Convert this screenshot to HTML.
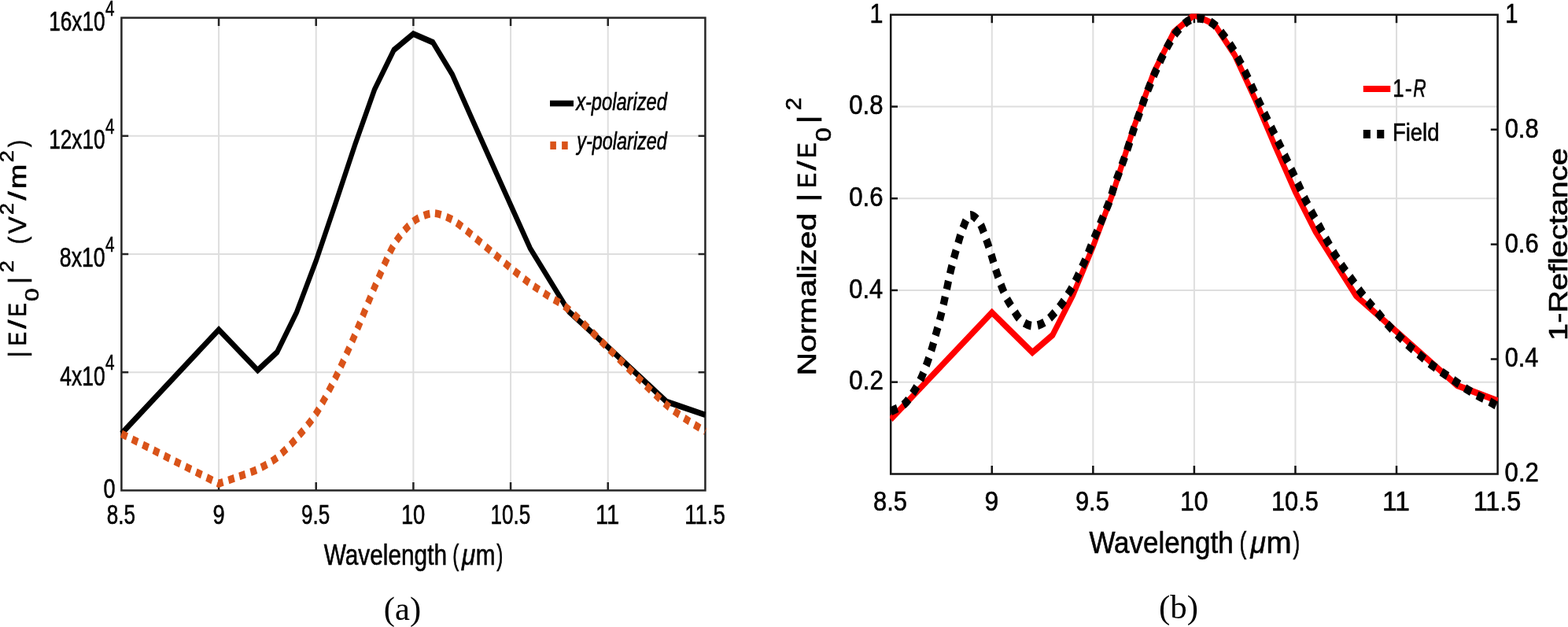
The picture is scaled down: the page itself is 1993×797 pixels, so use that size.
<!DOCTYPE html>
<html lang="en"><head><meta charset="utf-8"><title>Figure</title>
<style>
html,body{margin:0;padding:0;background:#fff;}
body{width:1993px;height:797px;overflow:hidden;}
svg{display:block;}
</style></head>
<body>
<svg width="1993" height="797" viewBox="0 0 1993 797">
<rect x="0" y="0" width="1993" height="797" fill="#ffffff"/>
<defs><clipPath id="c1"><rect x="151.9" y="21.3" width="747.0" height="603.4"/></clipPath><clipPath id="c2"><rect x="1131.2" y="17.5" width="773.4" height="586.2"/></clipPath></defs>
<line x1="278.07" y1="22.60" x2="278.07" y2="623.40" stroke="#dedede" stroke-width="2.0"/>
<line x1="401.73" y1="22.60" x2="401.73" y2="623.40" stroke="#dedede" stroke-width="2.0"/>
<line x1="525.40" y1="22.60" x2="525.40" y2="623.40" stroke="#dedede" stroke-width="2.0"/>
<line x1="649.07" y1="22.60" x2="649.07" y2="623.40" stroke="#dedede" stroke-width="2.0"/>
<line x1="772.73" y1="22.60" x2="772.73" y2="623.40" stroke="#dedede" stroke-width="2.0"/>
<line x1="154.40" y1="172.80" x2="896.40" y2="172.80" stroke="#dedede" stroke-width="2.0"/>
<line x1="154.40" y1="323.00" x2="896.40" y2="323.00" stroke="#dedede" stroke-width="2.0"/>
<line x1="154.40" y1="473.20" x2="896.40" y2="473.20" stroke="#dedede" stroke-width="2.0"/>
<rect x="154.4" y="22.6" width="742.0" height="600.8" fill="none" stroke="#262626" stroke-width="2.5"/>
<line x1="278.07" y1="623.40" x2="278.07" y2="613.00" stroke="#262626" stroke-width="2.5"/>
<line x1="278.07" y1="22.60" x2="278.07" y2="33.00" stroke="#262626" stroke-width="2.5"/>
<line x1="401.73" y1="623.40" x2="401.73" y2="613.00" stroke="#262626" stroke-width="2.5"/>
<line x1="401.73" y1="22.60" x2="401.73" y2="33.00" stroke="#262626" stroke-width="2.5"/>
<line x1="525.40" y1="623.40" x2="525.40" y2="613.00" stroke="#262626" stroke-width="2.5"/>
<line x1="525.40" y1="22.60" x2="525.40" y2="33.00" stroke="#262626" stroke-width="2.5"/>
<line x1="649.07" y1="623.40" x2="649.07" y2="613.00" stroke="#262626" stroke-width="2.5"/>
<line x1="649.07" y1="22.60" x2="649.07" y2="33.00" stroke="#262626" stroke-width="2.5"/>
<line x1="772.73" y1="623.40" x2="772.73" y2="613.00" stroke="#262626" stroke-width="2.5"/>
<line x1="772.73" y1="22.60" x2="772.73" y2="33.00" stroke="#262626" stroke-width="2.5"/>
<line x1="154.40" y1="172.80" x2="163.20" y2="172.80" stroke="#262626" stroke-width="2.5"/>
<line x1="896.40" y1="172.80" x2="887.60" y2="172.80" stroke="#262626" stroke-width="2.5"/>
<line x1="154.40" y1="323.00" x2="163.20" y2="323.00" stroke="#262626" stroke-width="2.5"/>
<line x1="896.40" y1="323.00" x2="887.60" y2="323.00" stroke="#262626" stroke-width="2.5"/>
<line x1="154.40" y1="473.20" x2="163.20" y2="473.20" stroke="#262626" stroke-width="2.5"/>
<line x1="896.40" y1="473.20" x2="887.60" y2="473.20" stroke="#262626" stroke-width="2.5"/>
<g clip-path="url(#c1)">
<g transform="scale(0.8 1)">
<path d="M193.0 551.2 L347.6 419.0 L409.4 470.6 L440.3 447.5 L471.3 397.0 L502.2 331.5 L533.1 258.5 L564.0 184.0 L594.9 114.1 L625.8 63.6 L656.7 43.0 L687.7 53.8 L718.6 94.6 L749.5 150.4 L780.4 205.5 L811.3 260.5 L842.2 315.5 L904.1 396.3 L965.9 441.2 L1058.7 510.4 L1120.5 527.4" fill="none" stroke="#000000" stroke-width="7.7" stroke-linejoin="miter" stroke-linecap="butt"/>
<path d="M193.0 551.3 L347.6 614.8 C351.7 613.6 370.3 608.4 378.5 606.0 C386.7 603.6 401.2 599.8 409.4 596.5 C417.7 593.2 432.1 586.8 440.3 581.5 C448.6 576.2 463.0 564.4 471.3 557.0 C479.5 549.6 493.9 536.0 502.2 525.7 C510.4 515.4 524.8 493.4 533.1 480.0 C541.3 466.6 555.8 440.8 564.0 425.5 C572.2 410.2 586.7 380.8 594.9 365.5 C603.2 350.2 617.6 322.2 625.8 311.0 C634.1 299.8 648.5 286.8 656.7 281.5 C665.0 276.2 679.4 271.3 687.7 271.0 C695.9 270.7 710.3 275.6 718.6 279.3 C726.8 283.0 741.3 293.1 749.5 298.5 C757.7 303.9 772.2 313.9 780.4 319.5 C788.7 325.1 803.1 335.2 811.3 340.6 C819.6 346.0 834.0 355.4 842.2 360.3 C850.5 365.2 864.9 372.8 873.2 377.3 C881.4 381.8 891.7 385.1 904.1 393.8 C916.5 402.5 945.3 426.1 965.9 442.2 C986.5 458.3 1038.1 500.3 1058.7 514.5 C1079.3 528.7 1112.3 544.0 1120.5 548.5" fill="none" stroke="#D95319" stroke-width="9.9" stroke-linejoin="round" stroke-dasharray="9.7 8.6" stroke-dashoffset="0"/>
</g>
</g>
<text font-family="'Liberation Sans', sans-serif" fill="#000" stroke="#000" stroke-width="0.6" style="white-space:pre"><tspan x="62.16" y="39.00" font-size="34.60" textLength="71.55" lengthAdjust="spacingAndGlyphs">16x10</tspan><tspan x="134.06" y="19.70" font-size="27.40" textLength="11.51" lengthAdjust="spacingAndGlyphs">4</tspan></text>
<text font-family="'Liberation Sans', sans-serif" fill="#000" stroke="#000" stroke-width="0.6" style="white-space:pre"><tspan x="62.16" y="189.20" font-size="34.60" textLength="71.55" lengthAdjust="spacingAndGlyphs">12x10</tspan><tspan x="134.06" y="169.90" font-size="27.40" textLength="11.51" lengthAdjust="spacingAndGlyphs">4</tspan></text>
<text font-family="'Liberation Sans', sans-serif" fill="#000" stroke="#000" stroke-width="0.6" style="white-space:pre"><tspan x="75.80" y="339.40" font-size="34.60" textLength="57.90" lengthAdjust="spacingAndGlyphs">8x10</tspan><tspan x="134.06" y="320.10" font-size="27.40" textLength="11.51" lengthAdjust="spacingAndGlyphs">4</tspan></text>
<text font-family="'Liberation Sans', sans-serif" fill="#000" stroke="#000" stroke-width="0.6" style="white-space:pre"><tspan x="76.33" y="489.60" font-size="34.60" textLength="57.35" lengthAdjust="spacingAndGlyphs">4x10</tspan><tspan x="134.06" y="470.30" font-size="27.40" textLength="11.51" lengthAdjust="spacingAndGlyphs">4</tspan></text>
<text font-family="'Liberation Sans', sans-serif" fill="#000" stroke="#000" stroke-width="0.6" style="white-space:pre"><tspan x="131.55" y="633.00" font-size="34.60" textLength="15.06" lengthAdjust="spacingAndGlyphs">0</tspan></text>
<text font-family="'Liberation Sans', sans-serif" fill="#000" stroke="#000" stroke-width="0.6" style="white-space:pre"><tspan x="135.72" y="665.70" font-size="34.60" textLength="36.31" lengthAdjust="spacingAndGlyphs">8.5</tspan></text>
<text font-family="'Liberation Sans', sans-serif" fill="#000" stroke="#000" stroke-width="0.6" style="white-space:pre"><tspan x="270.44" y="665.70" font-size="34.60" textLength="15.18" lengthAdjust="spacingAndGlyphs">9</tspan></text>
<text font-family="'Liberation Sans', sans-serif" fill="#000" stroke="#000" stroke-width="0.6" style="white-space:pre"><tspan x="383.09" y="665.70" font-size="34.60" textLength="36.23" lengthAdjust="spacingAndGlyphs">9.5</tspan></text>
<text font-family="'Liberation Sans', sans-serif" fill="#000" stroke="#000" stroke-width="0.6" style="white-space:pre"><tspan x="509.88" y="665.70" font-size="34.60" textLength="30.47" lengthAdjust="spacingAndGlyphs">10</tspan></text>
<text font-family="'Liberation Sans', sans-serif" fill="#000" stroke="#000" stroke-width="0.6" style="white-space:pre"><tspan x="623.47" y="665.70" font-size="34.60" textLength="50.68" lengthAdjust="spacingAndGlyphs">10.5</tspan></text>
<text font-family="'Liberation Sans', sans-serif" fill="#000" stroke="#000" stroke-width="0.6" style="white-space:pre"><tspan x="756.96" y="665.70" font-size="34.60" textLength="30.29" lengthAdjust="spacingAndGlyphs">11</tspan></text>
<text font-family="'Liberation Sans', sans-serif" fill="#000" stroke="#000" stroke-width="0.6" style="white-space:pre"><tspan x="870.17" y="665.70" font-size="34.60" textLength="51.65" lengthAdjust="spacingAndGlyphs">11.5</tspan></text>
<text font-family="'Liberation Sans', sans-serif" fill="#000" stroke="#000" stroke-width="0.6" style="white-space:pre"><tspan x="411.70" y="718.00" font-size="36.50" textLength="164.61" lengthAdjust="spacingAndGlyphs">Wavelength </tspan><tspan x="575.28" y="718.00" font-size="36.50" textLength="8.12" lengthAdjust="spacingAndGlyphs">(</tspan><tspan x="586.89" y="718.00" font-size="36.50" font-style="italic" textLength="17.24" lengthAdjust="spacingAndGlyphs">μ</tspan><tspan x="604.64" y="718.00" font-size="36.50" textLength="24.77" lengthAdjust="spacingAndGlyphs">m</tspan><tspan x="631.22" y="718.00" font-size="36.50" textLength="8.12" lengthAdjust="spacingAndGlyphs">)</tspan></text>
<text transform="translate(33.2 452.0) rotate(-90)" font-family="'Liberation Sans', sans-serif" fill="#000" stroke="#000" stroke-width="0.6" style="white-space:pre"><tspan x="-2.66" y="0.00" font-size="30.80" textLength="8.62" lengthAdjust="spacingAndGlyphs">|</tspan><tspan x="12.38" y="0.00" font-size="30.80" textLength="17.57" lengthAdjust="spacingAndGlyphs">E</tspan><tspan x="34.29" y="0.00" font-size="30.80" textLength="11.23" lengthAdjust="spacingAndGlyphs">/</tspan><tspan x="49.51" y="0.00" font-size="30.80" textLength="17.33" lengthAdjust="spacingAndGlyphs">E</tspan><tspan x="68.99" y="16.00" font-size="23.40" textLength="16.58" lengthAdjust="spacingAndGlyphs">0</tspan><tspan x="91.08" y="0.00" font-size="30.80" textLength="9.14" lengthAdjust="spacingAndGlyphs">|</tspan><tspan x="105.89" y="-16.00" font-size="23.40" textLength="22.73" lengthAdjust="spacingAndGlyphs">2 </tspan><tspan x="141.80" y="0.00" font-size="30.80" textLength="9.45" lengthAdjust="spacingAndGlyphs">(</tspan><tspan x="154.95" y="0.00" font-size="30.80" textLength="21.77" lengthAdjust="spacingAndGlyphs">V</tspan><tspan x="179.11" y="-16.00" font-size="23.40" textLength="14.81" lengthAdjust="spacingAndGlyphs">2</tspan><tspan x="197.48" y="0.00" font-size="30.80" textLength="11.16" lengthAdjust="spacingAndGlyphs">/</tspan><tspan x="212.12" y="0.00" font-size="30.80" textLength="31.38" lengthAdjust="spacingAndGlyphs">m</tspan><tspan x="245.89" y="-16.00" font-size="23.40" textLength="15.04" lengthAdjust="spacingAndGlyphs">2</tspan><tspan x="264.96" y="0.00" font-size="30.80" textLength="8.98" lengthAdjust="spacingAndGlyphs">)</tspan></text>
<line x1="699.00" y1="131.50" x2="729.00" y2="131.50" stroke="#000" stroke-width="7.6"/>
<text font-family="'Liberation Sans', sans-serif" fill="#000" stroke="#000" stroke-width="0.6" style="white-space:pre"><tspan x="732.17" y="139.80" font-size="31.20" font-style="italic" textLength="115.68" lengthAdjust="spacingAndGlyphs">x-polarized</tspan></text>
<rect x="699.3" y="179.8" width="7.6" height="10.2" fill="#D95319"/><rect x="714.1" y="179.8" width="7.6" height="10.2" fill="#D95319"/>
<text font-family="'Liberation Sans', sans-serif" fill="#000" stroke="#000" stroke-width="0.6" style="white-space:pre"><tspan x="733.31" y="189.70" font-size="31.20" font-style="italic" textLength="114.54" lengthAdjust="spacingAndGlyphs">y-polarized</tspan></text>
<text font-family="'Liberation Serif', serif" fill="#000" style="white-space:pre"><tspan x="487.78" y="788.30" font-size="41.50" textLength="47.33" lengthAdjust="spacingAndGlyphs">(a)</tspan></text>
<line x1="1260.77" y1="18.80" x2="1260.77" y2="602.40" stroke="#dedede" stroke-width="2.0"/>
<line x1="1389.33" y1="18.80" x2="1389.33" y2="602.40" stroke="#dedede" stroke-width="2.0"/>
<line x1="1517.90" y1="18.80" x2="1517.90" y2="602.40" stroke="#dedede" stroke-width="2.0"/>
<line x1="1646.47" y1="18.80" x2="1646.47" y2="602.40" stroke="#dedede" stroke-width="2.0"/>
<line x1="1775.03" y1="18.80" x2="1775.03" y2="602.40" stroke="#dedede" stroke-width="2.0"/>
<line x1="1132.20" y1="135.52" x2="1903.60" y2="135.52" stroke="#dedede" stroke-width="2.0"/>
<line x1="1132.20" y1="252.24" x2="1903.60" y2="252.24" stroke="#dedede" stroke-width="2.0"/>
<line x1="1132.20" y1="368.96" x2="1903.60" y2="368.96" stroke="#dedede" stroke-width="2.0"/>
<line x1="1132.20" y1="485.68" x2="1903.60" y2="485.68" stroke="#dedede" stroke-width="2.0"/>
<path d="M1132.2 18.8 H1903.6 V602.4 H1132.2 Z" fill="none" stroke="#141414" stroke-width="2.5"/>
<line x1="1260.77" y1="602.40" x2="1260.77" y2="592.00" stroke="#141414" stroke-width="2.5"/>
<line x1="1260.77" y1="18.80" x2="1260.77" y2="29.20" stroke="#141414" stroke-width="2.5"/>
<line x1="1389.33" y1="602.40" x2="1389.33" y2="592.00" stroke="#141414" stroke-width="2.5"/>
<line x1="1389.33" y1="18.80" x2="1389.33" y2="29.20" stroke="#141414" stroke-width="2.5"/>
<line x1="1517.90" y1="602.40" x2="1517.90" y2="592.00" stroke="#141414" stroke-width="2.5"/>
<line x1="1517.90" y1="18.80" x2="1517.90" y2="29.20" stroke="#141414" stroke-width="2.5"/>
<line x1="1646.47" y1="602.40" x2="1646.47" y2="592.00" stroke="#141414" stroke-width="2.5"/>
<line x1="1646.47" y1="18.80" x2="1646.47" y2="29.20" stroke="#141414" stroke-width="2.5"/>
<line x1="1775.03" y1="602.40" x2="1775.03" y2="592.00" stroke="#141414" stroke-width="2.5"/>
<line x1="1775.03" y1="18.80" x2="1775.03" y2="29.20" stroke="#141414" stroke-width="2.5"/>
<line x1="1132.20" y1="135.52" x2="1141.00" y2="135.52" stroke="#141414" stroke-width="2.5"/>
<line x1="1132.20" y1="252.24" x2="1141.00" y2="252.24" stroke="#141414" stroke-width="2.5"/>
<line x1="1132.20" y1="368.96" x2="1141.00" y2="368.96" stroke="#141414" stroke-width="2.5"/>
<line x1="1132.20" y1="485.68" x2="1141.00" y2="485.68" stroke="#141414" stroke-width="2.5"/>
<line x1="1903.60" y1="164.70" x2="1894.80" y2="164.70" stroke="#141414" stroke-width="2.5"/>
<line x1="1903.60" y1="310.60" x2="1894.80" y2="310.60" stroke="#141414" stroke-width="2.5"/>
<line x1="1903.60" y1="456.50" x2="1894.80" y2="456.50" stroke="#141414" stroke-width="2.5"/>
<g clip-path="url(#c2)">
<g transform="scale(0.85 1)">
<path d="M1332.0 533.0 L1483.3 397.2 L1543.8 448.0 L1574.0 425.9 L1604.3 375.3 L1634.5 313.4 L1664.8 244.0 L1695.0 163.0 L1725.3 92.0 L1755.5 40.5 L1785.8 18.8 L1816.0 31.0 L1846.3 70.0 L1876.5 125.5 L1906.8 186.0 L1937.0 244.0 L1967.3 294.6 L2027.8 376.0 L2088.3 421.5 L2179.0 490.0 L2239.5 509.5" fill="none" stroke="#FF0000" stroke-width="8.2" stroke-linejoin="miter" stroke-linecap="butt"/>
<path d="M1332.0 523.0 C1332.5 522.8 1331.6 523.2 1334.9 521.7 C1338.3 520.2 1347.0 517.6 1352.1 513.8 C1357.2 510.0 1361.3 504.4 1365.4 499.1 C1369.5 493.8 1373.3 488.1 1376.6 482.2 C1379.9 476.3 1382.7 469.9 1385.4 463.7 C1388.1 457.5 1390.6 451.2 1392.8 445.0 C1395.1 438.8 1396.9 432.8 1398.9 426.5 C1401.0 420.2 1403.1 413.7 1405.1 407.3 C1407.0 400.9 1408.7 394.8 1410.5 388.4 C1412.2 382.0 1413.7 375.5 1415.4 368.8 C1417.1 362.1 1418.7 354.9 1420.5 348.2 C1422.3 341.5 1424.2 335.2 1426.2 328.7 C1428.3 322.2 1430.5 315.5 1432.7 309.1 C1434.9 302.7 1436.8 296.4 1439.6 290.5 C1442.5 284.6 1445.9 275.0 1450.0 273.6 C1454.1 272.2 1460.4 277.9 1464.2 282.4 C1468.1 286.8 1470.3 294.2 1473.1 300.3 C1475.8 306.4 1478.3 312.8 1480.7 319.2 C1483.1 325.6 1485.2 332.4 1487.5 338.8 C1489.9 345.2 1492.1 351.1 1494.8 357.4 C1497.5 363.6 1500.5 370.6 1503.6 376.3 C1506.8 382.0 1510.2 386.4 1514.0 391.6 C1517.8 396.8 1521.6 403.5 1526.7 407.3 C1531.8 411.1 1538.6 414.1 1544.7 414.4 C1550.8 414.7 1557.4 412.1 1563.2 408.9 C1569.0 405.6 1574.7 399.8 1579.6 394.9 C1584.6 390.0 1588.9 384.8 1593.1 379.5 C1597.2 374.2 1600.9 368.9 1604.6 363.2 C1608.2 357.4 1611.6 351.0 1614.9 345.0 C1618.3 339.0 1621.5 333.3 1624.5 327.4 C1627.5 321.5 1630.1 315.4 1632.9 309.4 C1635.8 303.4 1638.8 297.5 1641.8 291.5 C1644.7 285.5 1647.7 279.3 1650.6 273.3 C1653.5 267.3 1656.4 262.0 1659.1 255.7 C1661.7 249.4 1663.9 241.9 1666.5 235.4 C1669.1 228.9 1672.0 222.9 1674.6 216.8 C1677.2 210.7 1679.7 205.0 1682.2 198.9 C1684.7 192.8 1687.2 186.2 1689.5 180.0 C1691.9 173.8 1694.0 167.5 1696.5 161.4 C1698.9 155.3 1701.6 149.6 1704.1 143.5 C1706.7 137.4 1709.1 130.8 1711.8 124.6 C1714.5 118.4 1717.4 112.6 1720.2 106.6 C1723.1 100.6 1726.0 94.6 1729.1 88.7 C1732.1 82.8 1735.2 76.9 1738.6 71.1 C1742.0 65.3 1745.5 59.2 1749.3 53.8 C1753.1 48.4 1756.8 43.1 1761.6 38.5 C1766.5 33.9 1772.2 28.6 1778.1 26.1 C1784.0 23.6 1790.7 22.7 1796.9 23.5 C1803.1 24.3 1809.9 27.5 1815.3 31.0 C1820.7 34.5 1825.0 39.8 1829.5 44.7 C1834.0 49.6 1838.2 54.8 1842.2 60.3 C1846.3 65.8 1850.0 71.8 1853.6 77.6 C1857.3 83.4 1860.7 89.3 1864.0 95.2 C1867.3 101.1 1870.4 107.1 1873.6 113.1 C1876.9 119.1 1880.4 125.2 1883.6 131.1 C1886.9 137.0 1889.9 142.5 1893.2 148.4 C1896.5 154.3 1900.2 160.4 1903.5 166.3 C1906.9 172.2 1910.0 177.9 1913.2 183.6 C1916.4 189.3 1919.5 194.8 1922.7 200.5 C1925.9 206.2 1929.2 212.0 1932.4 217.8 C1935.5 223.6 1938.6 229.4 1941.9 235.4 C1945.1 241.4 1948.5 247.9 1951.9 253.8 C1955.3 259.7 1958.7 265.1 1962.2 270.8 C1965.8 276.5 1969.5 282.3 1973.1 288.0 C1976.6 293.7 1980.1 299.3 1983.8 305.0 C1987.5 310.7 1991.3 316.7 1995.3 322.3 C1999.3 327.9 2003.5 333.5 2007.5 338.6 C2011.6 343.8 2015.5 348.1 2019.8 353.2 C2024.1 358.3 2028.8 364.3 2033.3 369.5 C2037.8 374.7 2042.2 379.5 2046.7 384.2 C2051.2 388.9 2055.8 393.2 2060.5 397.9 C2065.2 402.6 2069.9 407.8 2074.8 412.4 C2079.7 417.0 2084.8 421.2 2089.9 425.5 C2095.0 429.8 2100.1 434.3 2105.3 438.4 C2110.5 442.5 2115.8 446.2 2121.3 450.1 C2126.8 454.1 2132.5 458.3 2138.2 462.1 C2143.9 465.9 2149.8 469.2 2155.5 472.7 C2161.3 476.1 2167.0 479.4 2172.8 482.8 C2178.6 486.2 2184.4 489.9 2190.4 493.2 C2196.3 496.4 2202.4 499.4 2208.6 502.3 C2214.8 505.2 2222.4 508.1 2227.5 510.5 C2232.7 512.9 2237.5 515.5 2239.5 516.5" fill="none" stroke="#000000" stroke-width="10.9" stroke-linejoin="round" stroke-dasharray="10.8 9.6" stroke-dashoffset="0"/>
</g>
</g>
<text font-family="'Liberation Sans', sans-serif" fill="#000" stroke="#000" stroke-width="0.6" style="white-space:pre"><tspan x="1105.38" y="28.60" font-size="34.60" textLength="16.94" lengthAdjust="spacingAndGlyphs">1</tspan></text>
<text font-family="'Liberation Sans', sans-serif" fill="#000" stroke="#000" stroke-width="0.6" style="white-space:pre"><tspan x="1079.33" y="145.22" font-size="34.60" textLength="43.23" lengthAdjust="spacingAndGlyphs">0.8</tspan></text>
<text font-family="'Liberation Sans', sans-serif" fill="#000" stroke="#000" stroke-width="0.6" style="white-space:pre"><tspan x="1079.33" y="261.94" font-size="34.60" textLength="43.23" lengthAdjust="spacingAndGlyphs">0.6</tspan></text>
<text font-family="'Liberation Sans', sans-serif" fill="#000" stroke="#000" stroke-width="0.6" style="white-space:pre"><tspan x="1079.34" y="378.66" font-size="34.60" textLength="42.75" lengthAdjust="spacingAndGlyphs">0.4</tspan></text>
<text font-family="'Liberation Sans', sans-serif" fill="#000" stroke="#000" stroke-width="0.6" style="white-space:pre"><tspan x="1079.32" y="495.38" font-size="34.60" textLength="43.48" lengthAdjust="spacingAndGlyphs">0.2</tspan></text>
<text font-family="'Liberation Sans', sans-serif" fill="#000" stroke="#000" stroke-width="0.6" style="white-space:pre"><tspan x="1913.17" y="28.60" font-size="34.60" textLength="16.20" lengthAdjust="spacingAndGlyphs">1</tspan></text>
<text font-family="'Liberation Sans', sans-serif" fill="#000" stroke="#000" stroke-width="0.6" style="white-space:pre"><tspan x="1912.63" y="174.60" font-size="34.60" textLength="43.02" lengthAdjust="spacingAndGlyphs">0.8</tspan></text>
<text font-family="'Liberation Sans', sans-serif" fill="#000" stroke="#000" stroke-width="0.6" style="white-space:pre"><tspan x="1912.63" y="320.50" font-size="34.60" textLength="43.02" lengthAdjust="spacingAndGlyphs">0.6</tspan></text>
<text font-family="'Liberation Sans', sans-serif" fill="#000" stroke="#000" stroke-width="0.6" style="white-space:pre"><tspan x="1912.64" y="466.40" font-size="34.60" textLength="42.54" lengthAdjust="spacingAndGlyphs">0.4</tspan></text>
<text font-family="'Liberation Sans', sans-serif" fill="#000" stroke="#000" stroke-width="0.6" style="white-space:pre"><tspan x="1912.62" y="612.30" font-size="34.60" textLength="43.27" lengthAdjust="spacingAndGlyphs">0.2</tspan></text>
<text font-family="'Liberation Sans', sans-serif" fill="#000" stroke="#000" stroke-width="0.6" style="white-space:pre"><tspan x="1110.05" y="648.90" font-size="35.20" textLength="42.93" lengthAdjust="spacingAndGlyphs">8.5</tspan></text>
<text font-family="'Liberation Sans', sans-serif" fill="#000" stroke="#000" stroke-width="0.6" style="white-space:pre"><tspan x="1251.46" y="648.90" font-size="35.20" textLength="17.74" lengthAdjust="spacingAndGlyphs">9</tspan></text>
<text font-family="'Liberation Sans', sans-serif" fill="#000" stroke="#000" stroke-width="0.6" style="white-space:pre"><tspan x="1367.00" y="648.90" font-size="35.20" textLength="42.77" lengthAdjust="spacingAndGlyphs">9.5</tspan></text>
<text font-family="'Liberation Sans', sans-serif" fill="#000" stroke="#000" stroke-width="0.6" style="white-space:pre"><tspan x="1499.88" y="648.90" font-size="35.20" textLength="35.52" lengthAdjust="spacingAndGlyphs">10</tspan></text>
<text font-family="'Liberation Sans', sans-serif" fill="#000" stroke="#000" stroke-width="0.6" style="white-space:pre"><tspan x="1615.96" y="648.90" font-size="35.20" textLength="59.85" lengthAdjust="spacingAndGlyphs">10.5</tspan></text>
<text font-family="'Liberation Sans', sans-serif" fill="#000" stroke="#000" stroke-width="0.6" style="white-space:pre"><tspan x="1757.07" y="648.90" font-size="35.20" textLength="34.75" lengthAdjust="spacingAndGlyphs">11</tspan></text>
<text font-family="'Liberation Sans', sans-serif" fill="#000" stroke="#000" stroke-width="0.6" style="white-space:pre"><tspan x="1872.64" y="648.90" font-size="35.20" textLength="60.75" lengthAdjust="spacingAndGlyphs">11.5</tspan></text>
<text font-family="'Liberation Sans', sans-serif" fill="#000" stroke="#000" stroke-width="0.6" style="white-space:pre"><tspan x="1384.40" y="702.60" font-size="38.00" textLength="192.94" lengthAdjust="spacingAndGlyphs">Wavelength </tspan><tspan x="1575.55" y="702.60" font-size="38.00" textLength="8.86" lengthAdjust="spacingAndGlyphs">(</tspan><tspan x="1589.49" y="702.60" font-size="38.00" font-style="italic" textLength="19.38" lengthAdjust="spacingAndGlyphs">μ</tspan><tspan x="1609.40" y="702.60" font-size="38.00" textLength="32.12" lengthAdjust="spacingAndGlyphs">m</tspan><tspan x="1643.61" y="702.60" font-size="38.00" textLength="8.74" lengthAdjust="spacingAndGlyphs">)</tspan></text>
<text transform="translate(1036.6 474.6) rotate(-90)" font-family="'Liberation Sans', sans-serif" fill="#000" stroke="#000" stroke-width="0.6" style="white-space:pre"><tspan x="-3.00" y="0.00" font-size="32.40" textLength="218.23" lengthAdjust="spacingAndGlyphs">Normalized </tspan><tspan x="217.98" y="0.00" font-size="32.40" textLength="11.34" lengthAdjust="spacingAndGlyphs">|</tspan><tspan x="235.91" y="0.00" font-size="32.40" textLength="19.02" lengthAdjust="spacingAndGlyphs">E</tspan><tspan x="258.14" y="0.00" font-size="32.40" textLength="12.04" lengthAdjust="spacingAndGlyphs">/</tspan><tspan x="273.73" y="0.00" font-size="32.40" textLength="19.74" lengthAdjust="spacingAndGlyphs">E</tspan><tspan x="294.67" y="19.00" font-size="27.20" textLength="17.81" lengthAdjust="spacingAndGlyphs">0</tspan><tspan x="317.08" y="0.00" font-size="32.40" textLength="11.34" lengthAdjust="spacingAndGlyphs">|</tspan><tspan x="334.46" y="-18.50" font-size="27.20" textLength="16.20" lengthAdjust="spacingAndGlyphs">2</tspan></text>
<text transform="translate(1991.9 430.3) rotate(-90)" font-family="'Liberation Sans', sans-serif" fill="#000" stroke="#000" stroke-width="0.6" style="white-space:pre"><tspan x="-2.61" y="0.00" font-size="33.00" textLength="244.64" lengthAdjust="spacingAndGlyphs">1-Reflectance</tspan></text>
<line x1="1732.80" y1="112.90" x2="1767.30" y2="112.90" stroke="#FF0000" stroke-width="8.0"/>
<text font-family="'Liberation Sans', sans-serif" fill="#000" stroke="#000" stroke-width="0.6" style="white-space:pre"><tspan x="1770.32" y="122.90" font-size="31.50" textLength="14.29" lengthAdjust="spacingAndGlyphs">1</tspan><tspan x="1785.64" y="122.90" font-size="31.50" textLength="9.04" lengthAdjust="spacingAndGlyphs">-</tspan><tspan x="1796.23" y="122.90" font-size="31.50" font-style="italic" textLength="16.42" lengthAdjust="spacingAndGlyphs">R</tspan></text>
<rect x="1732.8" y="165.0" width="9.1" height="10.9" fill="#000"/><rect x="1750.2" y="165.0" width="9.1" height="10.9" fill="#000"/>
<text font-family="'Liberation Sans', sans-serif" fill="#000" stroke="#000" stroke-width="0.6" style="white-space:pre"><tspan x="1770.00" y="178.60" font-size="31.00" textLength="59.45" lengthAdjust="spacingAndGlyphs">Field</tspan></text>
<text font-family="'Liberation Serif', serif" fill="#000" style="white-space:pre"><tspan x="1473.07" y="785.60" font-size="43.00" textLength="50.00" lengthAdjust="spacingAndGlyphs">(b)</tspan></text>
</svg>
</body></html>
